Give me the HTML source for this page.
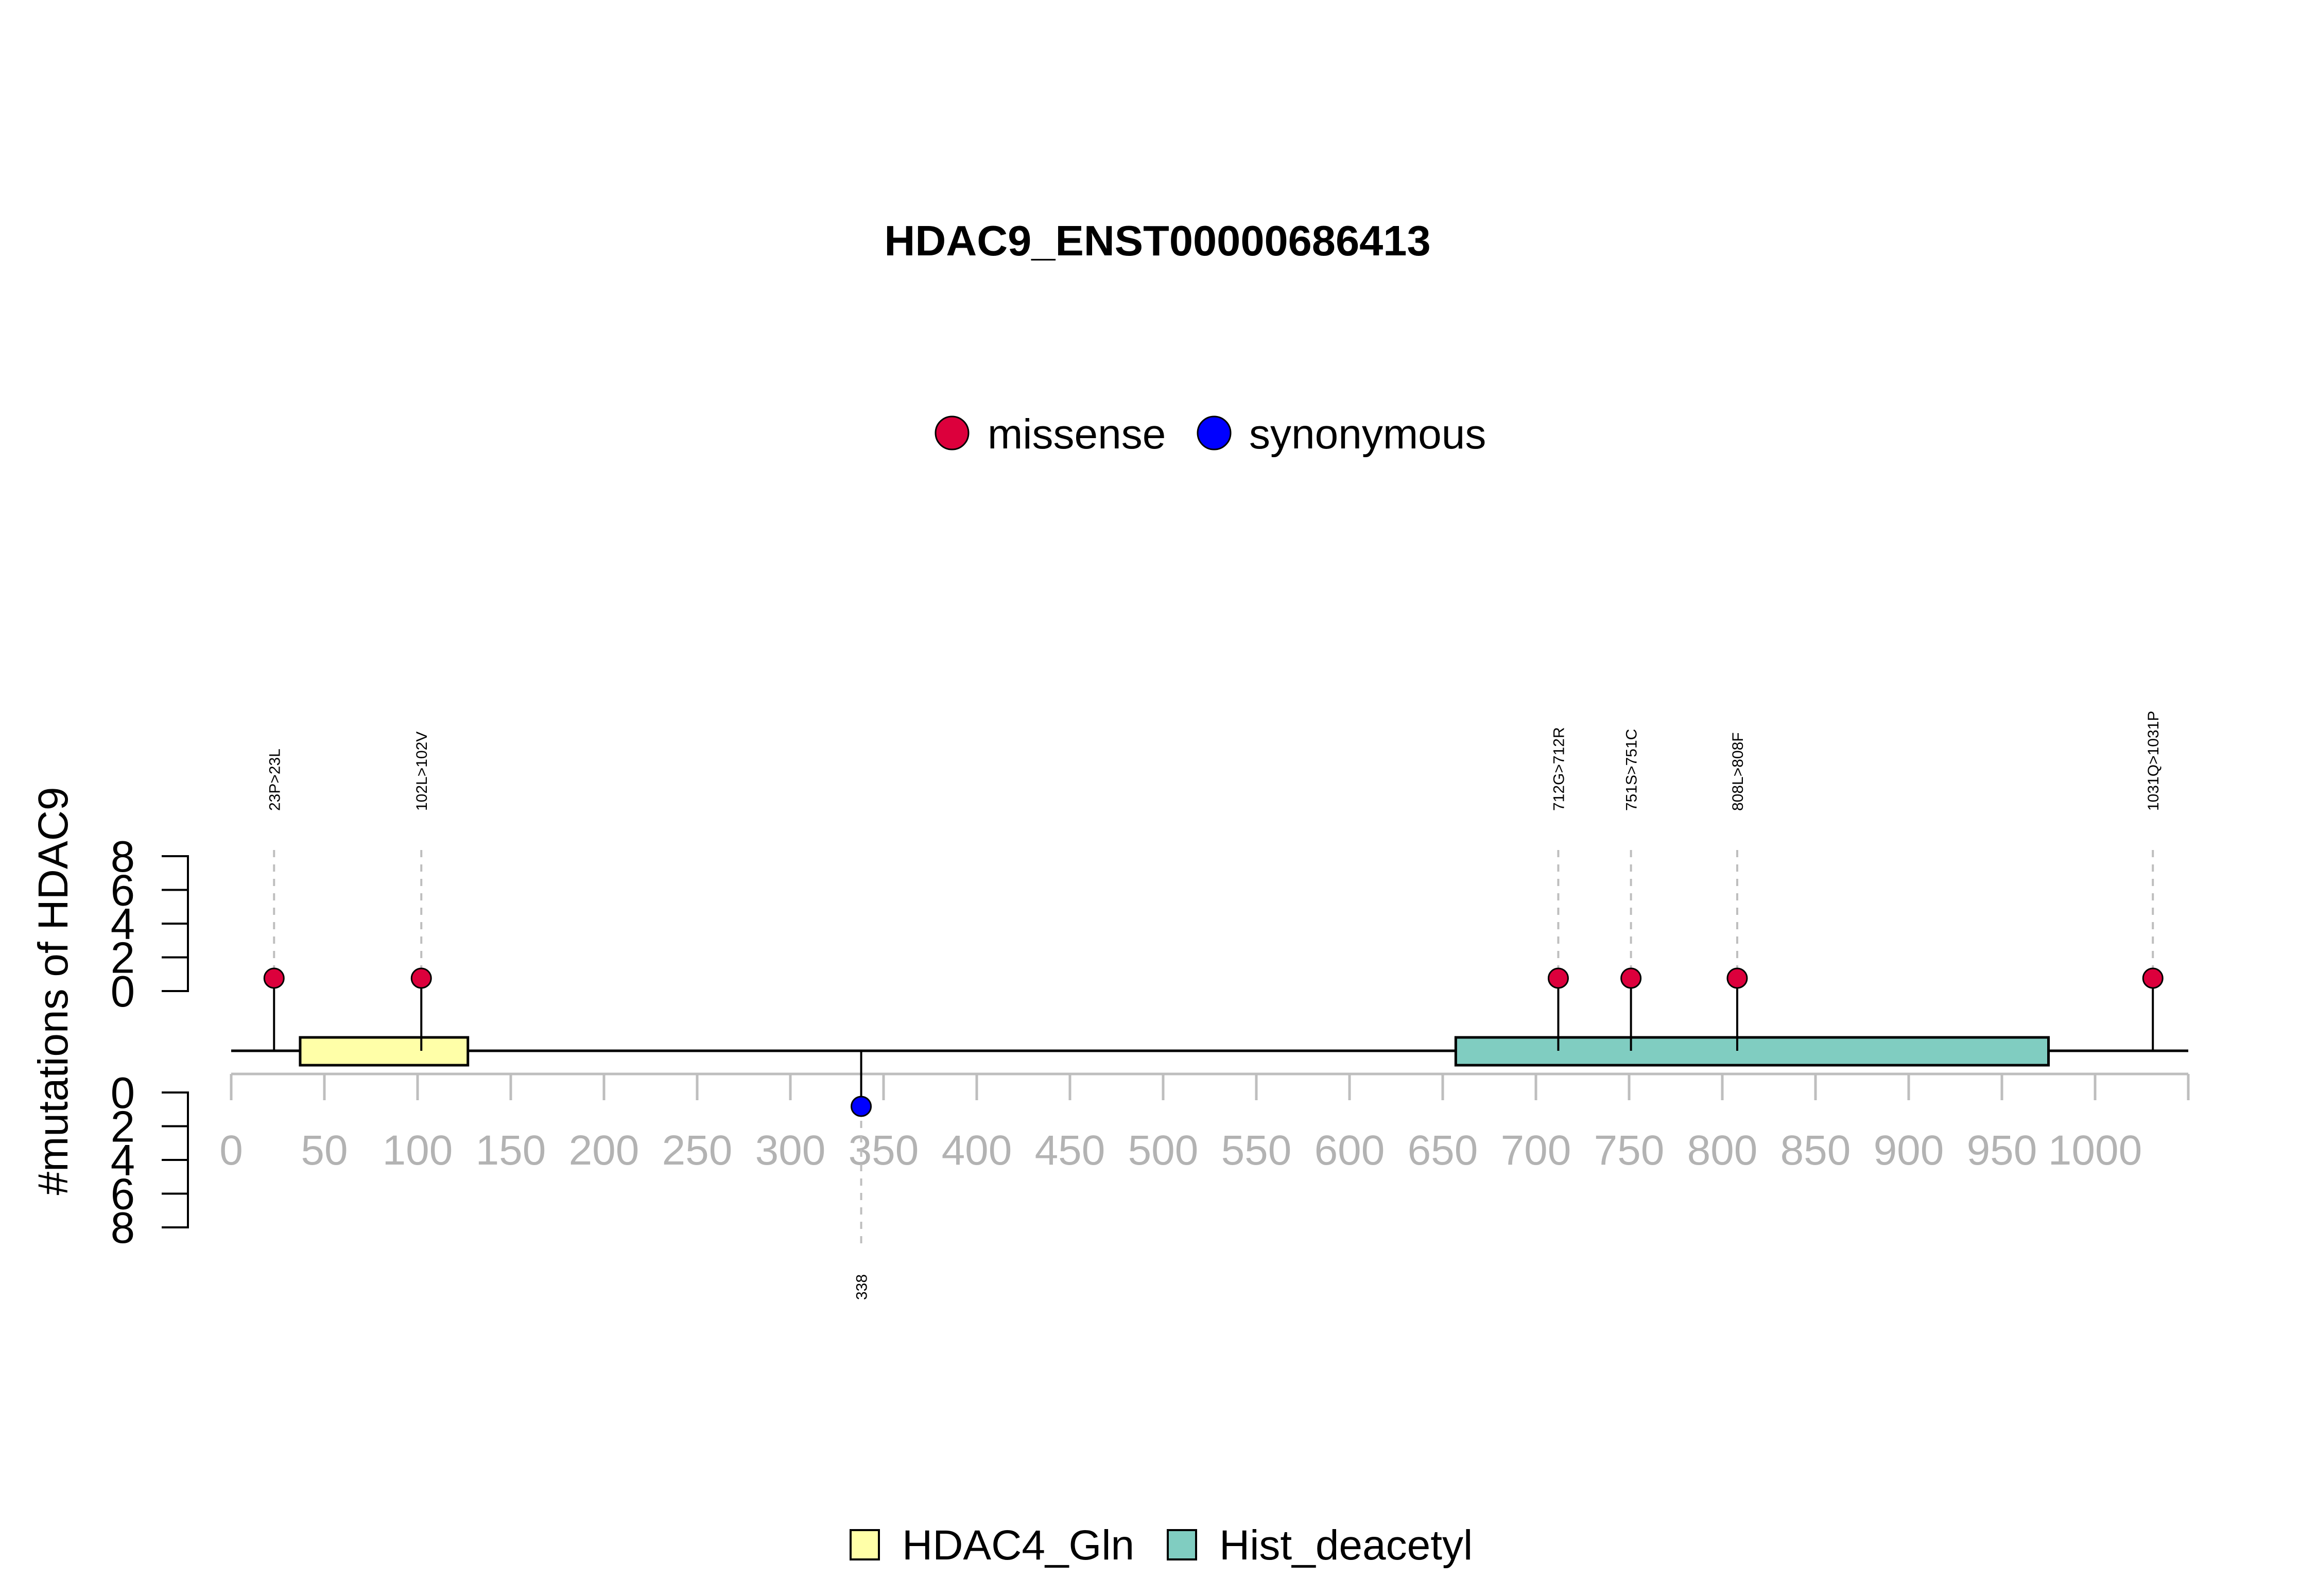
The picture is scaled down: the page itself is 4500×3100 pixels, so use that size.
<!DOCTYPE html>
<html><head><meta charset="utf-8"><style>
html,body{margin:0;padding:0;background:#fff}
svg{display:block;font-family:"Liberation Sans",Arial,sans-serif}
</style></head><body>
<svg id="chart" width="4500" height="3100" viewBox="0 0 4500 3100" xmlns="http://www.w3.org/2000/svg">
<rect width="4500" height="3100" fill="#fff"/>
<text x="2248" y="496" font-size="83" font-weight="bold" text-anchor="middle">HDAC9_ENST00000686413</text>
<g>
<circle cx="1849" cy="841" r="32" fill="#dc003c" stroke="#000" stroke-width="3"/>
<text x="1918" y="871" font-size="82">missense</text>
<circle cx="2358" cy="841" r="32" fill="#0000ff" stroke="#000" stroke-width="3"/>
<text x="2426" y="871" font-size="82">synonymous</text>
</g>
<text transform="translate(131,1925) rotate(-90)" font-size="82" text-anchor="middle">#mutations of HDAC9</text>
<g id="yaxes"></g>
<g id="xaxis"></g>
<g id="domains"></g>
<g id="lollis"></g>
<g>
<rect x="1652" y="2972" width="55" height="57" fill="#ffffa8" stroke="#000" stroke-width="4"/>
<text x="1752" y="3029" font-size="82">HDAC4_Gln</text>
<rect x="2268" y="2972" width="55" height="57" fill="#80cdc1" stroke="#000" stroke-width="4"/>
<text x="2368" y="3029" font-size="82">Hist_deacetyl</text>
</g>
</svg>
<script>
const xTicks = [0,50,100,150,200,250,300,350,400,450,500,550,600,650,700,750,800,850,900,950,1000];
const yTicks = [0,2,4,6,8];
const domainNames = ["HDAC4_Gln","Hist_deacetyl"];
const domainStart = [37,657];
const domainEnd = [127,975];
const domainColors = ["#ffffa8","#80cdc1"];
const mutPos = [23,102,712,751,808,1031,338];
const mutLabels = ["23P>23L","102L>102V","712G>712R","751S>751C","808L>808F","1031Q>1031P","338"];
const mutCount = [1,1,1,1,1,1,1];
const mutSide = ["up","up","up","up","up","up","down"];
const mutType = ["missense","missense","missense","missense","missense","missense","synonymous"];

const NS="http://www.w3.org/2000/svg";
const X = v => 449 + v*3.62;
const yUp = v => 1925 - v*32.75;
const yDn = v => 2122 + v*32.75;
const headUp = c => 1925 - 25*c;
const headDn = c => 2122 + 27*c;
const BACK = 2041;
function mk(tag, attrs, parent){const e=document.createElementNS(NS,tag);for(const k in attrs)e.setAttribute(k,attrs[k]);parent.appendChild(e);return e;}

const ya=document.getElementById('yaxes');
[["up",yUp],["down",yDn]].forEach(([side,f])=>{
  let l=mk('line',{x1:365,x2:365,y1:f(0),y2:f(8),stroke:'#000','stroke-width':4},ya);
  
  
  yTicks.forEach(t=>{
    let tk=mk('line',{x1:314,x2:367,y1:f(t),y2:f(t),stroke:'#000','stroke-width':4},ya);
    
    
    let tx=mk('text',{x:262,y:f(t)+30,'font-size':85,'text-anchor':'end'},ya);
    tx.textContent=t;
    
    
  });
});

const xa=document.getElementById('xaxis');
let al=mk('line',{x1:X(0),x2:X(1050),y1:2086,y2:2086,stroke:'#bebebe','stroke-width':5},xa);


xTicks.concat([1050]).forEach(t=>{
  let tk=mk('line',{x1:X(t),x2:X(t),y1:2086,y2:2137,stroke:'#bebebe','stroke-width':5},xa);
  
  
});
xTicks.forEach(t=>{
  let tx=mk('text',{x:X(t),y:2262,'font-size':82,'text-anchor':'middle',fill:'#b3b3b3'},xa);
  tx.textContent=t;
  
  
});

const dm=document.getElementById('domains');
let bb=mk('line',{x1:X(0),x2:X(1050),y1:BACK,y2:BACK,stroke:'#000','stroke-width':5},dm);


domainNames.forEach((n,i)=>{
  let r=mk('rect',{x:X(domainStart[i]),y:2015,width:X(domainEnd[i])-X(domainStart[i]),height:54,fill:domainColors[i],stroke:'#000','stroke-width':5},dm);
  
  
});

const lg=document.getElementById('lollis');
mutPos.forEach((p,i)=>{
  const x=X(p), up=mutSide[i]==="up";
  const hy= up?headUp(mutCount[i]):headDn(mutCount[i]);
  let d=mk('line',{x1:x,x2:x,y1:up?1651:hy,y2:up?hy:2420,stroke:'#bebebe','stroke-width':4,'stroke-dasharray':'14 14'},lg);
  
  
  let s=mk('line',{x1:x,x2:x,y1:BACK,y2:hy,stroke:'#000','stroke-width':4},lg);
  
  
  let c=mk('circle',{cx:x,cy:hy,r:19,fill:mutType[i]==="missense"?'#dc003c':'#0000ff',stroke:'#000','stroke-width':3},lg);
  
  
  const ty= up?1575:2525;
  let t=mk('text',{transform:`translate(${x+11},${ty}) rotate(-90)`,'font-size':30},lg);
  t.textContent=mutLabels[i];
  
  
});
</script>
</body></html>
